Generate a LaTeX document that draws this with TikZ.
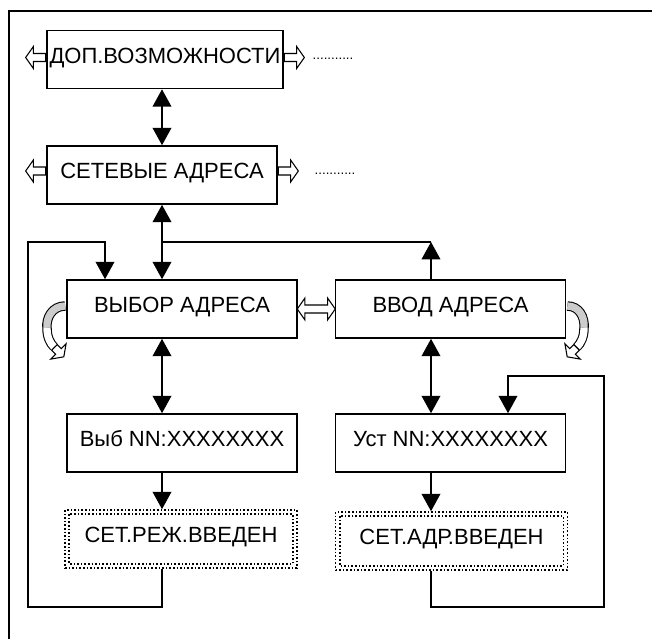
\documentclass[tikz,border=0pt]{standalone}
\usepackage{fontspec}
\setsansfont{Liberation Sans}
\usetikzlibrary{arrows.meta,calc,positioning,shapes.arrows}
\tikzset{pin/.style={line width=1.1pt, -{Triangle[length=13pt,width=14pt]}},
  bus/.style={line width=1.1pt, {Triangle[length=13pt,width=14pt]}-{Triangle[length=13pt,width=14pt]}},
  wire/.style={line width=1.1pt},
  holarr/.style={single arrow, draw, fill=white, line width=0.8pt, inner xsep=0pt, inner ysep=2.6pt,
    text height=0pt, text depth=0pt, minimum height=15pt, single arrow head extend=5.2pt,
    single arrow tip angle=110},
  holdbl/.style={double arrow, draw, fill=white, line width=0.8pt, inner xsep=0pt, inner ysep=2.6pt,
    text height=0pt, text depth=0pt, minimum height=28.5pt, double arrow head extend=5.2pt,
    double arrow tip angle=110},
  curl/.style={line width=0.8pt, double=white, double distance=5.5pt},
  blk/.style={draw, line width=1.2pt, minimum width=172.5pt, minimum height=43.5pt, inner sep=0pt,
    text height=12pt, text depth=6.5pt, align=center},
  dotblk/.style={blk, dash pattern=on 1.2pt off 1.5pt, minimum width=174pt},
  dotline/.style={line width=1.2pt, dash pattern=on 1.2pt off 1.5pt},
  more/.style={font=\sffamily\fontsize{10}{12}\selectfont}}

\begin{document}
\begin{tikzpicture}[x=0.75pt, y=-0.75pt, font=\sffamily\fontsize{16.5}{19}\selectfont]
  \useasboundingbox (0,0) rectangle (652,639);
  \draw[line width=1.5pt] (9,639) -- (9,11) -- (652,11);
  % menu levels
  \node[blk, minimum width=177pt] (dop) at (165,59.5) {ДОП.ВОЗМОЖНОСТИ};
  \node[blk] (set) at (162,175) {СЕТЕВЫЕ АДРЕСА};
  \node[more] (dop+) at (333,59) {...........};
  \node[more] (set+) at (335,174) {...........};
  \node[holarr, rotate=180, anchor=tail] (dopL) at ($(dop.west)+(0,-2)$) {};
  \node[holarr, anchor=tail] (dopR) at ($(dop.east)+(0,-2)$) {};
  \node[holarr, rotate=180, anchor=tail] (setL) at ($(set.west)+(0,-4)$) {};
  \node[holarr, anchor=tail] (setR) at ($(set.east)+(0,-4)$) {};
  % address choice / entry
  \node[blk] (vybor) at (182,309) {ВЫБОР АДРЕСА};
  \node[blk] (vvod) at (450.5,309) {ВВОД АДРЕСА};
  \node[blk] (vyb) at (182,443) {Выб NN:XXXXXXXX};
  \node[blk] (ust) at (450.5,443) {Уст NN:XXXXXXXX};
  \node[dotblk] (rezh) at (181,539) {СЕТ.РЕЖ.ВВЕДЕН};
  \node[dotblk] (adr) at (451.5,541) {СЕТ.АДР.ВВЕДЕН};
  \draw[dotline] ($(rezh.north west)+(5,5)$) rectangle ($(rezh.south east)+(-5,-5)$);
  \draw[dotline] ($(adr.north west)+(5,5)$) rectangle ($(adr.south east)+(-5,-5)$);
  \node[holdbl] (swap) at ($(vybor.east)!0.5!(vvod.west)$) {};
  \coordinate (colL) at (162,0);
  \coordinate (colR) at (431,0);
  \coordinate (lt) at (105,242);
  \coordinate (lb) at (28,607);
  \coordinate (rt) at (508,376);
  \coordinate (rb) at (604,607);
  \draw[bus] (dop.south -| colL) -- (set.north -| colL);
  \draw[bus] (set.south -| colL) -- (vybor.north -| colL);
  \draw[pin] (vvod.north -| colR) -- (colR |- lt);
  \draw[wire] (colR |- lt) -- (colL |- lt);
  \draw[bus] (vybor.south -| colL) -- (vyb.north -| colL);
  \draw[pin] (vyb.south -| colL) -- (rezh.north -| colL);
  \draw[bus] (vvod.south -| colR) -- (ust.north -| colR);
  \draw[pin] (ust.south -| colR) -- (adr.north -| colR);
  % return loops
  \draw[pin] (rezh.south -| colL) |- (lb) |- (lt) -- (lt |- vybor.north);
  \draw[pin] (adr.south -| colR) |- (rb) |- (rt) -- (rt |- ust.north);
  % curled arrows
  \draw[curl, double=gray!40] ($(vybor.west)+(-1,-3)$) .. controls (52,306) and (46,318) .. (47,328);
  \draw[curl] (47,328) .. controls (47,337) and (50,343) .. (54,347) coordinate (cl);
  \node[holarr, minimum height=10pt, rotate=-45, anchor=tail] (curlL) at (cl) {};
  \draw[curl, double=gray!40] ($(vvod.east)+(1,-3)$) .. controls (579,306) and (585,317) .. (584,328);
  \draw[curl] (584,328) .. controls (584,337) and (581,343) .. (577,347) coordinate (cr);
  \node[holarr, minimum height=10pt, rotate=-135, anchor=tail] (curlR) at (cr) {};
\end{tikzpicture}
\end{document}
